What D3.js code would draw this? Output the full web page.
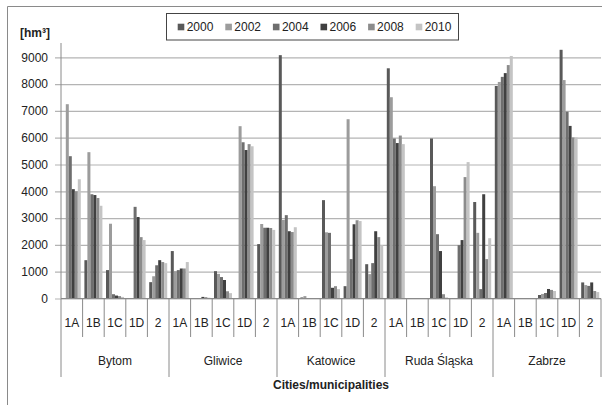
<!DOCTYPE html>
<html>
<head>
<meta charset="utf-8">
<script src="https://cdn.jsdelivr.net/npm/d3@7"></script>
<style>
  body { margin: 0; background: #fff; }
  svg { display: block; font-family: "Liberation Sans", Arial, sans-serif; }
</style>
</head>
<body>
<div id="chart"></div>
<script>
// Grouped bar chart: volumes per city / category, 2000-2010

const cities = ["Bytom", "Gliwice", "Katowice", "Ruda Śląska", "Zabrze"];
const categories = ["1A", "1B", "1C", "1D", "2"];
const years = ["2000", "2002", "2004", "2006", "2008", "2010"];
const yTicks = [0, 1000, 2000, 3000, 4000, 5000, 6000, 7000, 8000, 9000];

// values in city order, 5 categories each
const v2000 = [0, 1430, 1060, 0, 610,   1770, 0, 1020, 0, 2030,   9080, 40, 3670, 460, 1280,   8590, 0, 5970, 0, 3600,   7930, 0, 130, 9280, 600];
const v2002 = [7250, 5460, 2790, 0, 830,   1020, 0, 920, 6430, 2780,   2930, 90, 2470, 6690, 910,   7510, 0, 4190, 0, 2450,   8080, 0, 170, 8150, 500];
const v2004 = [5310, 3890, 160, 3420, 1240,   1060, 0, 800, 5830, 2640,   3110, 0, 2450, 1470, 1320,   5970, 0, 2400, 1990, 350,   8270, 0, 205, 6970, 470];
const v2006 = [4080, 3860, 110, 3040, 1430,   1120, 60, 690, 5540, 2640,   2510, 0, 400, 2770, 2510,   5800, 0, 1770, 2180, 3890,   8410, 0, 355, 6440, 600];
const v2008 = [4000, 3750, 90, 2290, 1360,   1120, 50, 270, 5760, 2630,   2480, 0, 460, 2920, 2290,   6080, 0, 160, 4530, 1470,   8710, 0, 320, 6010, 280];
const v2010 = [4450, 3460, 60, 2180, 1320,   1360, 30, 200, 5680, 2560,   2660, 0, 350, 2890, 1990,   5760, 0, 40, 5090, 2250,   9050, 0, 280, 6010, 240];

const colors = ["#595959", "#9c9c9c", "#6e6e6e", "#404040", "#8c8c8c", "#c4c4c4"];

(function() {
  const width = 610, height = 405;
  const left = 61, right = 601, zeroY = 298.5;

  const series = [v2000, v2002, v2004, v2006, v2008, v2010];

  // one row per city/category slot
  const rows = [];
  cities.forEach((c, ci) => {
    categories.forEach((k, ki) => {
      const i = ci * categories.length + ki;
      rows.push({key: c + "|" + k, city: c, cat: k, values: series.map(s => s[i])});
    });
  });

  const svg = d3.select("#chart")
    .append("svg")
    .attr("width", width)
    .attr("height", height);

  // chart frame (only top and left edge fall inside the picture)
  svg.append("path")
    .attr("d", `M7.5,${height} V6.5 H602`)
    .attr("fill", "none")
    .attr("stroke", "#8a8a8a");

  const x0 = d3.scaleBand()
    .domain(rows.map(d => d.key))
    .range([left, right])
    .paddingInner(1 / 6)
    .paddingOuter(1 / 12);

  const x1 = d3.scaleBand()
    .domain(years)
    .range([0, x0.bandwidth()]);

  const y = d3.scaleLinear()
    .domain([0, 9000])
    .range([zeroY, 57.3]);

  // gridlines + y labels
  const yAxis = svg.append("g")
    .attr("transform", `translate(${left},0)`)
    .call(d3.axisLeft(y)
      .tickValues(yTicks)
      .tickFormat(d3.format("d"))
      .tickSize(-(right - left))
      .tickSizeOuter(0)
      .tickPadding(13));
  yAxis.select(".domain").remove();
  yAxis.selectAll(".tick line")
    .attr("stroke", "#b4b4b4")
    .attr("stroke-width", 1.2)
    .attr("x1", -6);
  yAxis.selectAll(".tick text")
    .attr("font-size", 12)
    .attr("fill", "#222");

  svg.append("line")
    .attr("x1", left).attr("x2", left)
    .attr("y1", 43).attr("y2", zeroY)
    .attr("stroke", "#8a8a8a");

  // bars
  svg.append("g")
    .selectAll("g")
    .data(rows)
    .join("g")
    .attr("transform", d => `translate(${x0(d.key)},0)`)
    .selectAll("rect")
    .data(d => d.values.map((v, i) => ({year: years[i], value: v, i})))
    .join("rect")
    .attr("x", d => x1(d.year))
    .attr("width", x1.bandwidth())
    .attr("y", d => y(d.value))
    .attr("height", d => zeroY - y(d.value))
    .attr("fill", d => colors[d.i]);

  // category axis
  const step = x0.step();
  const axis = svg.append("g").attr("stroke", "#8a8a8a");
  axis.append("line")
    .attr("x1", left).attr("x2", right)
    .attr("y1", zeroY).attr("y2", zeroY);
  d3.range(rows.length + 1).forEach(i => {
    const xx = left + i * step;
    const cityEdge = i % categories.length === 0;
    axis.append("line")
      .attr("x1", xx).attr("x2", xx)
      .attr("y1", zeroY).attr("y2", cityEdge ? 377 : 337);
  });

  svg.append("g")
    .selectAll("text")
    .data(rows)
    .join("text")
    .attr("x", d => x0(d.key) + x0.bandwidth() / 2)
    .attr("y", 323)
    .attr("dy", "0.35em")
    .attr("text-anchor", "middle")
    .attr("font-size", 12)
    .attr("fill", "#222")
    .text(d => d.cat);

  svg.append("g")
    .selectAll("text")
    .data(cities)
    .join("text")
    .attr("x", (d, i) => left + (i + 0.5) * step * categories.length)
    .attr("y", 361)
    .attr("dy", "0.35em")
    .attr("text-anchor", "middle")
    .attr("font-size", 12)
    .attr("fill", "#222")
    .text(d => d);

  svg.append("text")
    .attr("x", (left + right) / 2)
    .attr("y", 385)
    .attr("dy", "0.35em")
    .attr("text-anchor", "middle")
    .attr("font-size", 12)
    .attr("font-weight", "bold")
    .attr("fill", "#222")
    .text("Cities/municipalities");

  // unit label
  svg.append("text")
    .attr("x", 20)
    .attr("y", 33)
    .attr("dy", "0.35em")
    .attr("font-size", 12)
    .attr("font-weight", "bold")
    .attr("fill", "#222")
    .text("[hm³]");

  // legend
  const legend = svg.append("g");
  legend.append("rect")
    .attr("x", 166.5).attr("y", 13.5)
    .attr("width", 292).attr("height", 26.5)
    .attr("fill", "#fff")
    .attr("stroke", "#444");

  legend.selectAll("g")
    .data(years)
    .join("g")
    .attr("transform", (d, i) => `translate(${177.7 + i * 47.6}, 27)`)
    .call(g => {
      g.append("rect")
        .attr("x", 0).attr("y", -3.3)
        .attr("width", 6.6).attr("height", 6.6)
        .attr("fill", (d, i) => colors[i]);
      g.append("text")
        .attr("x", 9)
        .attr("dy", "0.35em")
        .attr("font-size", 12)
        .attr("fill", "#222")
        .text(d => d);
    });
})();
</script>
</body>
</html>
